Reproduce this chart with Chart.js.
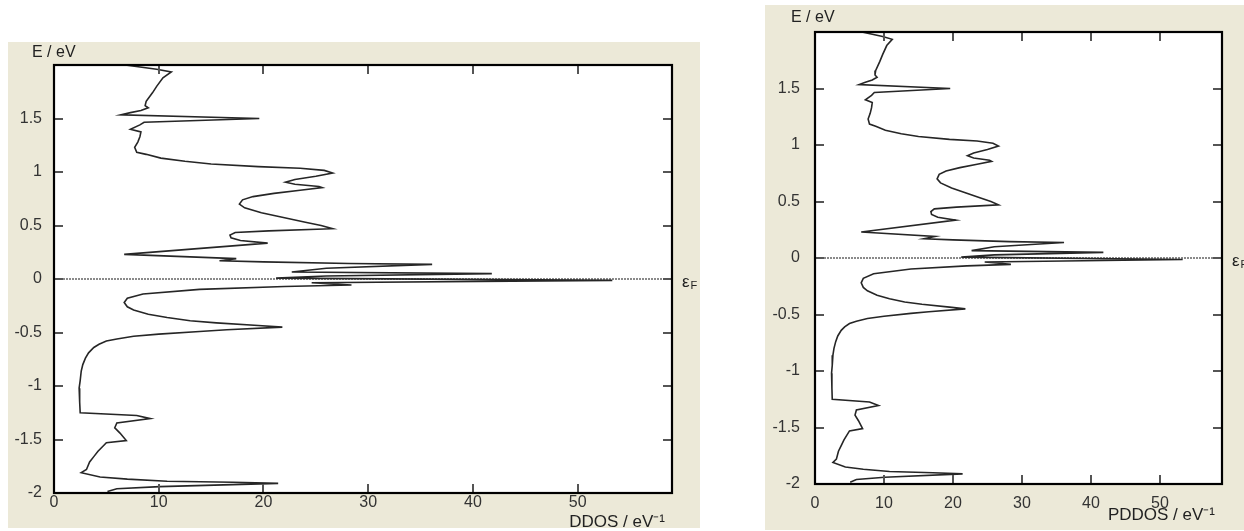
<!DOCTYPE html>
<html><head><meta charset="utf-8">
<script src="https://cdn.jsdelivr.net/npm/chart.js@4.4.1/dist/chart.umd.min.js"></script>
<style>
html,body{margin:0;padding:0;background:#fff;width:1244px;height:531px;overflow:hidden}
body{position:relative}
canvas{position:absolute}
#c1{left:8px;top:42px}
#c2{left:765px;top:5px}
</style></head><body>
<canvas id="c1" width="692" height="486"></canvas>
<canvas id="c2" width="479" height="525"></canvas>
<script>
// Energy (eV) from top to bottom, and density of states at each energy
const energy = [2.0, 1.96, 1.935, 1.88, 1.80, 1.74, 1.66, 1.62, 1.60, 1.575, 1.555, 1.535, 1.50, 1.465, 1.44, 1.40, 1.375, 1.33, 1.28, 1.23, 1.185, 1.165, 1.13, 1.10, 1.075, 1.05, 1.035, 1.015, 0.99, 0.96, 0.93, 0.905, 0.885, 0.865, 0.855, 0.83, 0.80, 0.77, 0.74, 0.70, 0.665, 0.62, 0.575, 0.53, 0.50, 0.47, 0.45, 0.435, 0.41, 0.385, 0.36, 0.335, 0.23, 0.19, 0.17, 0.16, 0.145, 0.137, 0.10, 0.065, 0.05, 0.028, 0.008, -0.013, -0.035, -0.056, -0.07, -0.097, -0.14, -0.18, -0.22, -0.26, -0.29, -0.33, -0.36, -0.39, -0.41, -0.435, -0.45, -0.475, -0.49, -0.515, -0.535, -0.56, -0.58, -0.61, -0.64, -0.69, -0.74, -0.80, -0.86, -0.95, -1.02, -1.15, -1.25, -1.275, -1.305, -1.345, -1.39, -1.44, -1.51, -1.53, -1.57, -1.61, -1.66, -1.71, -1.78, -1.81, -1.85, -1.87, -1.89, -1.90, -1.91, -1.94, -1.96, -1.985];
const dosValues = [6.8, 9.8, 11.2, 10.4, 9.8, 9.4, 8.8, 8.7, 9.0, 8.3, 7.3, 6.4, 19.6, 8.6, 8.2, 7.3, 8.3, 8.2, 8.0, 7.7, 7.9, 8.8, 10.2, 12.5, 15.0, 19.5, 23.5, 25.8, 26.6, 25.0, 23.0, 22.1, 23.0, 25.3, 25.6, 23.5, 21.0, 19.0, 18.0, 17.7, 18.2, 19.8, 21.9, 24.0, 25.5, 26.6, 20.5, 17.3, 16.8, 16.9, 17.8, 20.4, 6.7, 17.4, 15.8, 20.0, 28.2, 36.1, 26.0, 22.7, 41.8, 26.0, 21.2, 53.3, 24.6, 28.4, 22.0, 13.9, 8.5, 7.0, 6.7, 7.0, 7.6, 9.0, 10.8, 13.0, 15.5, 19.5, 21.8, 16.5, 13.9, 10.0, 7.6, 6.0, 5.0, 4.3, 3.8, 3.3, 3.0, 2.75, 2.6, 2.5, 2.4, 2.45, 2.5, 7.9, 9.2, 6.0, 5.8, 6.3, 6.9, 5.0, 4.6, 4.2, 3.8, 3.4, 3.1, 2.6, 4.4, 7.0, 10.8, 17.1, 21.4, 10.1, 6.0, 5.1];
const xTickValues = [0, 10, 20, 30, 40, 50];
const yTickValues = [-2, -1.5, -1, -0.5, 0, 0.5, 1, 1.5];
const xRange = [0, 59];
const yRange = [-2, 2];
const panelTitles = ['DDOS / eV\u207B\u00B9', 'PDDOS / eV\u207B\u00B9'];
const yAxisTitle = 'E / eV';
const fermiLabel = ['\u03B5', 'F'];

const FONT = "'Liberation Sans', Arial, sans-serif";

const framePlugin = {
  id: 'frame',
  beforeDraw(chart) {
    const {ctx, chartArea: a, width, height} = chart;
    ctx.save();
    ctx.fillStyle = '#ECE9D8';
    ctx.fillRect(0, 0, width, height);
    ctx.fillStyle = '#ffffff';
    ctx.fillRect(a.left, a.top, a.right - a.left, a.bottom - a.top);
    ctx.restore();
  },
  beforeDatasetsDraw(chart) {
    const {ctx, chartArea: a, scales: {y}} = chart;
    const py = Math.round(y.getPixelForValue(0));
    ctx.save();
    ctx.strokeStyle = '#8a8a8a';
    ctx.lineWidth = 2;
    ctx.setLineDash([2, 1]);
    ctx.beginPath();
    ctx.moveTo(a.left, py);
    ctx.lineTo(a.right, py);
    ctx.stroke();
    ctx.restore();
  },
  afterDraw(chart, args, o) {
    const {ctx, chartArea: a, scales: {x, y}} = chart;
    ctx.save();
    // inward tick marks on all four sides
    ctx.strokeStyle = '#555';
    ctx.lineWidth = 2;
    const L = 9;
    ctx.beginPath();
    xTickValues.forEach(v => {
      if (v <= xRange[0] || v >= xRange[1]) return;
      const px = Math.round(x.getPixelForValue(v));
      ctx.moveTo(px, a.bottom); ctx.lineTo(px, a.bottom - L);
      ctx.moveTo(px, a.top); ctx.lineTo(px, a.top + L);
    });
    yTickValues.forEach(v => {
      if (v <= yRange[0] || v >= yRange[1]) return;
      const py = Math.round(y.getPixelForValue(v));
      ctx.moveTo(a.left, py); ctx.lineTo(a.left + L, py);
      ctx.moveTo(a.right, py); ctx.lineTo(a.right - L, py);
    });
    ctx.stroke();
    // frame
    ctx.strokeStyle = '#000';
    ctx.lineWidth = 2.2;
    ctx.strokeRect(a.left, a.top, a.right - a.left, a.bottom - a.top);
    // titles
    ctx.fillStyle = '#222';
    ctx.font = '16px ' + FONT;
    ctx.textBaseline = 'middle';
    ctx.textAlign = 'left';
    ctx.fillText(yAxisTitle, o.yTitleX, o.yTitleY);
    ctx.font = '17px ' + FONT;
    ctx.textAlign = 'right';
    ctx.fillText(o.xTitle, a.right + o.xTitleDx, o.xTitleY);
    // Fermi level label
    const pf = y.getPixelForValue(0);
    ctx.textAlign = 'left';
    ctx.font = '17px ' + FONT;
    ctx.fillText(fermiLabel[0], a.right + 10, pf + 3);
    const w = ctx.measureText(fermiLabel[0]).width;
    ctx.font = '11px ' + FONT;
    ctx.fillText(fermiLabel[1], a.right + 10 + w + 1, pf + 7);
    ctx.restore();
  }
};

function makeChart(id, titleText, g) {
  const points = energy.map((e, i) => ({x: dosValues[i], y: e}));
  return new Chart(document.getElementById(id), {
    type: 'scatter',
    data: {datasets: [{
      data: points, showLine: true, pointRadius: 0, borderColor: '#262626',
      borderWidth: 1.6, tension: 0, fill: false
    }]},
    options: {
      responsive: false, animation: false, events: [],
      layout: {padding: {top: g.top, right: g.right, left: 0, bottom: 0}},
      plugins: {
        legend: {display: false}, tooltip: {enabled: false},
        frame: {xTitle: titleText, xTitleDx: g.xTitleDx, xTitleY: g.xTitleY, yTitleX: g.yTitleX, yTitleY: g.yTitleY}
      },
      scales: {
        x: {
          type: 'linear', min: xRange[0], max: xRange[1],
          grid: {display: false, drawTicks: false}, border: {display: false},
          ticks: {font: {family: FONT, size: 16}, color: '#333', padding: g.xPad, maxRotation: 0,
                  callback: v => String(v)},
          afterBuildTicks: s => { s.ticks = xTickValues.map(v => ({value: v})); },
          afterFit: s => { s.height = g.xH; }
        },
        y: {
          type: 'linear', min: yRange[0], max: yRange[1],
          grid: {display: false, drawTicks: false}, border: {display: false},
          ticks: {font: {family: FONT, size: 16}, color: '#333', padding: g.yPad,
                  callback: v => String(v)},
          afterBuildTicks: s => { s.ticks = yTickValues.map(v => ({value: v})); },
          afterFit: s => { s.width = g.yW; }
        }
      }
    },
    plugins: [framePlugin]
  });
}

makeChart('c1', panelTitles[0], {top: 23, right: 28, xH: 35, yW: 46, xPad: 0, yPad: 12, xTitleDx: -7, xTitleY: 480, yTitleX: 24, yTitleY: 11});
makeChart('c2', panelTitles[1], {top: 27, right: 22, xH: 46, yW: 50, xPad: 10, yPad: 15, xTitleDx: -7, xTitleY: 510, yTitleX: 26, yTitleY: 13});
</script>
</body></html>
